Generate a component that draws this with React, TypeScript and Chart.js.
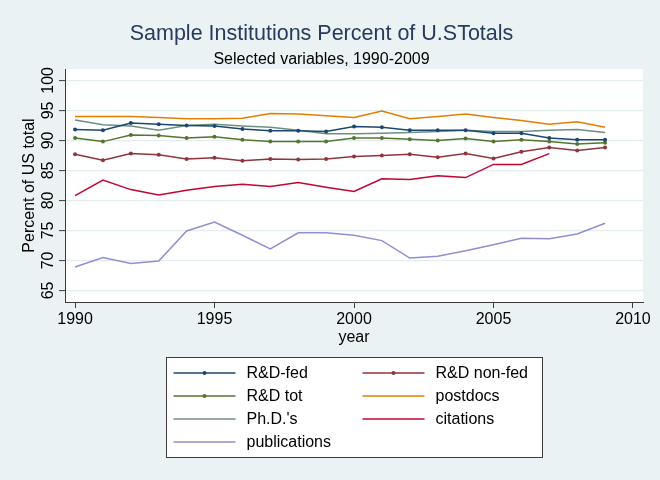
import React, { useEffect, useRef } from "react";
import { Chart, registerables } from "chart.js";

Chart.register(...registerables);

const years = [1990, 1991, 1992, 1993, 1994, 1995, 1996, 1997, 1998, 1999, 2000, 2001, 2002, 2003, 2004, 2005, 2006, 2007, 2008, 2009];
const rdFed = [91.8, 91.7, 92.9, 92.7, 92.5, 92.4, 91.9, 91.6, 91.6, 91.5, 92.3, 92.2, 91.7, 91.7, 91.7, 91.2, 91.2, 90.4, 90.1, 90.1];
const rdNonFed = [87.7, 86.7, 87.8, 87.6, 86.9, 87.1, 86.6, 86.9, 86.8, 86.9, 87.3, 87.5, 87.7, 87.2, 87.8, 87.0, 88.1, 88.8, 88.3, 88.8];
const rdTot = [90.4, 89.8, 90.9, 90.8, 90.4, 90.6, 90.1, 89.8, 89.8, 89.8, 90.4, 90.4, 90.2, 90.0, 90.3, 89.8, 90.1, 89.8, 89.4, 89.6];
const postdocs = [94.0, 94.0, 94.0, 93.8, 93.6, 93.6, 93.7, 94.5, 94.4, 94.1, 93.8, 94.9, 93.6, 94.0, 94.4, 93.8, 93.3, 92.7, 93.1, 92.2];
const phds = [93.4, 92.6, 92.4, 91.7, 92.5, 92.7, 92.4, 92.2, 91.7, 91.1, 91.1, 91.2, 91.3, 91.5, 91.7, 91.5, 91.5, 91.7, 91.8, 91.3];
const citations = [80.8, 83.4, 81.8, 80.9, 81.7, 82.3, 82.7, 82.3, 83.0, 82.2, 81.5, 83.6, 83.5, 84.1, 83.8, 86.0, 86.0, 87.8];
const publications = [68.9, 70.5, 69.5, 69.9, 74.9, 76.4, 74.2, 71.9, 74.6, 74.6, 74.2, 73.3, 70.4, 70.7, 71.6, 72.6, 73.7, 73.6, 74.4, 76.2];

const xTicks = [1990, 1995, 2000, 2005, 2010];
const yTicks = [65, 70, 75, 80, 85, 90, 95, 100];

const seriesNames = ["R&D-fed", "R&D non-fed", "R&D tot", "postdocs", "Ph.D.'s", "citations", "publications"];
const seriesValues = [rdFed, rdNonFed, rdTot, postdocs, phds, citations, publications];
const seriesColors = ["#1a476f", "#90353b", "#55752f", "#e37e00", "#6e8e84", "#c10534", "#938dd2"];
const seriesMarkers = [true, true, true, false, false, false, false];

const FONT = "'Liberation Sans', Arial, Helvetica, sans-serif";

const bgPlugin = {
  id: "stataBg",
  beforeDraw(chart: any) {
    const { ctx, chartArea } = chart;
    ctx.save();
    ctx.fillStyle = "#eaf2f3";
    ctx.fillRect(0, 0, chart.width, chart.height);
    ctx.fillStyle = "#ffffff";
    ctx.fillRect(chartArea.left, chartArea.top, chartArea.right - chartArea.left, chartArea.bottom - chartArea.top);
    ctx.restore();
  },
};

const legendPlugin = {
  id: "stataLegend",
  afterDraw(chart: any) {
    const { ctx, chartArea } = chart;
    const boxW = 376;
    const left = Math.round((chartArea.left + chartArea.right) / 2 - boxW / 2) + 0.5;
    const top = 357.5;
    const rowH = 23;
    const rows = Math.ceil(chart.data.datasets.length / 2);
    const boxH = rowH * rows + 8;
    ctx.save();
    ctx.fillStyle = "#ffffff";
    ctx.fillRect(left, top, boxW, boxH);
    ctx.strokeStyle = "#3c3c3c";
    ctx.lineWidth = 1;
    ctx.strokeRect(left, top, boxW, boxH);
    ctx.font = `16px ${FONT}`;
    ctx.textBaseline = "middle";
    ctx.textAlign = "left";
    chart.data.datasets.forEach((ds: any, i: number) => {
      const col = i % 2;
      const row = Math.floor(i / 2);
      const cy = top + 15.5 + row * rowH;
      const lx0 = left + (col === 0 ? 7 : 196);
      const lx1 = lx0 + 62;
      ctx.strokeStyle = ds.borderColor;
      ctx.lineWidth = ds.borderWidth;
      ctx.beginPath();
      ctx.moveTo(lx0, cy);
      ctx.lineTo(lx1, cy);
      ctx.stroke();
      if (ds.pointRadius > 0) {
        ctx.fillStyle = ds.borderColor;
        ctx.beginPath();
        ctx.arc((lx0 + lx1) / 2, cy, ds.pointRadius, 0, Math.PI * 2);
        ctx.fill();
      }
      ctx.fillStyle = "#000000";
      ctx.fillText(ds.label, lx1 + 11, cy + 1);
    });
    ctx.restore();
  },
};

export default function App() {
  const ref = useRef<HTMLCanvasElement>(null);
  useEffect(() => {
    document.body.style.margin = "0";
    const datasets = seriesNames.map((name, i) => ({
      label: name,
      data: seriesValues[i].map((v, j) => ({ x: years[j], y: v })),
      borderColor: seriesColors[i],
      backgroundColor: seriesColors[i],
      borderWidth: 1.5,
      pointRadius: seriesMarkers[i] ? 2 : 0,
      pointHoverRadius: 0,
      pointBorderWidth: 0,
      tension: 0,
      fill: false,
    }));
    const chart = new Chart(ref.current as HTMLCanvasElement, {
      type: "line",
      data: { datasets },
      options: {
        responsive: false,
        animation: false,
        events: [],
        layout: { padding: { left: 0, right: 17, top: 0, bottom: 128 } },
        plugins: {
          legend: { display: false },
          tooltip: { enabled: false },
          title: {
            display: true,
            text: "Sample Institutions Percent of U.STotals",
            color: "#283a5e",
            font: { family: FONT, size: 21.5, weight: "normal" },
            padding: { top: 21.6, bottom: 0 },
          },
          subtitle: {
            display: true,
            text: "Selected variables, 1990-2009",
            color: "#000000",
            font: { family: FONT, size: 16, weight: "normal" },
            padding: { top: 2.2, bottom: 0.2 },
          },
        },
        scales: {
          x: {
            type: "linear",
            min: 1989.64,
            max: 2010.36,
            afterBuildTicks: (scale: any) => {
              scale.ticks = xTicks.map((v) => ({ value: v }));
            },
            afterFit: (scale: any) => {
              scale.height = 50;
            },
            ticks: {
              autoSkip: false,
              maxRotation: 0,
              minRotation: 0,
              color: "#000000",
              font: { family: FONT, size: 16 },
              padding: 2,
              callback: (v: any) => String(v),
            },
            grid: { drawOnChartArea: false, drawTicks: true, tickLength: 6, tickColor: "#3c3c3c", tickWidth: 1 },
            border: { display: true, color: "#3c3c3c", width: 1 },
            title: {
              display: true,
              text: "year",
              color: "#000000",
              font: { family: FONT, size: 16 },
              padding: { top: 0, bottom: 4.4 },
            },
          },
          y: {
            type: "linear",
            min: 63.07,
            max: 101.9,
            afterBuildTicks: (scale: any) => {
              scale.ticks = yTicks.map((v) => ({ value: v }));
            },
            afterFit: (scale: any) => {
              scale.width = 65;
            },
            ticks: {
              autoSkip: false,
              minRotation: 90,
              maxRotation: 90,
              crossAlign: "center",
              color: "#000000",
              font: { family: FONT, size: 16 },
              padding: -2.6,
              callback: (v: any) => String(v),
            },
            grid: { color: "#e3ecef", lineWidth: 1.2, drawTicks: true, tickLength: 6, tickColor: "#3c3c3c", tickWidth: 1 },
            border: { display: true, color: "#3c3c3c", width: 1 },
            title: {
              display: true,
              text: "Percent of US total",
              color: "#000000",
              font: { family: FONT, size: 16 },
              padding: { top: 19.5, bottom: 0 },
            },
          },
        },
      } as any,
      plugins: [bgPlugin, legendPlugin],
    });
    return () => chart.destroy();
  }, []);
  return (
    <div style={{ width: 660, height: 480 }}>
      <canvas ref={ref} width={660} height={480} style={{ display: "block" }} />
    </div>
  );
}
